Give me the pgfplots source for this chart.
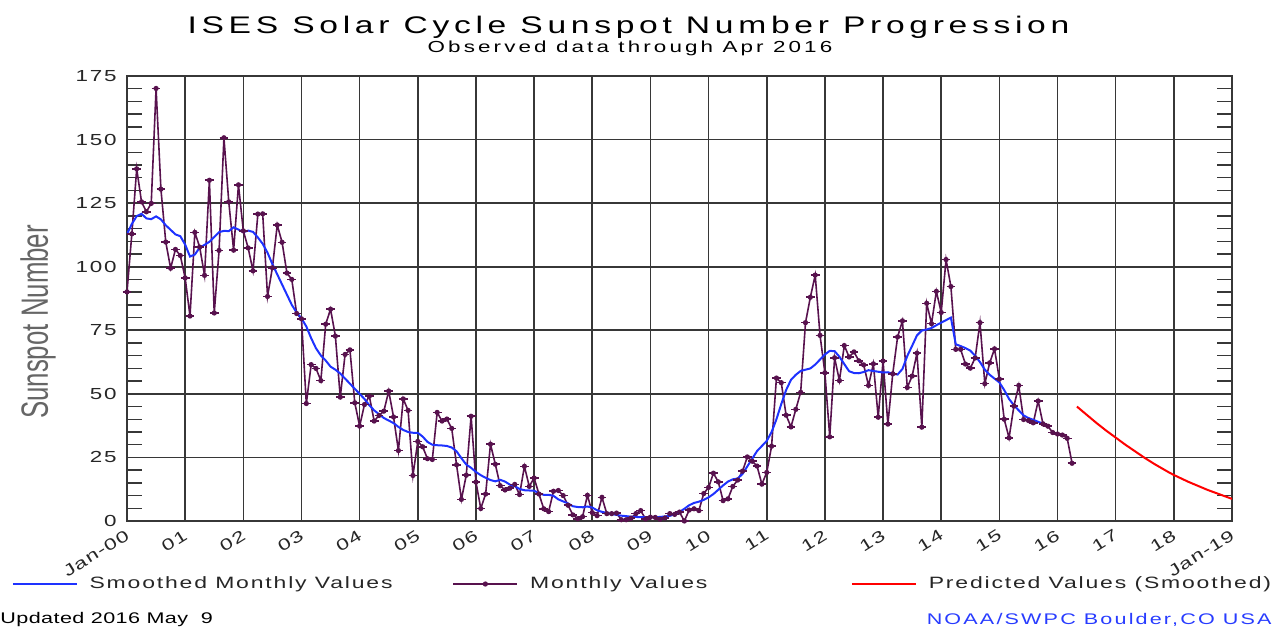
\documentclass[border=0pt]{standalone}
\usepackage{fontspec}
\setmainfont{Liberation Sans}
\usepackage{pgfplots}
\pgfplotsset{compat=1.18}
\usepackage{pgfplotstable}

\definecolor{monthc}{RGB}{88,18,78}
\definecolor{smoothc}{RGB}{30,50,255}
\definecolor{predc}{RGB}{255,0,0}
\definecolor{gridc}{RGB}{55,55,55}
\definecolor{noaac}{RGB}{40,60,255}

% wide, spaced lettering of the original plot: #1 = letter spacing
\newcommand\hs[2][8]{\scalebox{1.4}[1]{\addfontfeature{LetterSpace=#1}#2}}

% small bar with a dot, as on the monthly series
\pgfdeclareplotmark{bardot}{%
  \pgfpathmoveto{\pgfqpoint{-\pgfplotmarksize}{0pt}}%
  \pgfpathlineto{\pgfqpoint{\pgfplotmarksize}{0pt}}%
  \pgfusepathqstroke
  \pgfpathcircle{\pgfpointorigin}{0.6\pgfplotmarksize}%
  \pgfusepathqfill}

% months counted from Jan 2000
\pgfplotstableread[row sep=\\]{
m v\\
0 90.1\\ 1 112.9\\ 2 138.5\\ 3 125.5\\ 4 121.6\\ 5 124.9\\ 6 170.1\\ 7 130.5\\ 8 109.7\\ 9 99.4\\ 10 106.8\\ 11 104.4\\
12 95.6\\ 13 80.6\\ 14 113.5\\ 15 107.7\\ 16 96.6\\ 17 134.0\\ 18 81.8\\ 19 106.4\\ 20 150.7\\ 21 125.5\\ 22 106.5\\ 23 132.2\\
24 114.1\\ 25 107.4\\ 26 98.4\\ 27 120.7\\ 28 120.8\\ 29 88.3\\ 30 99.6\\ 31 116.4\\ 32 109.6\\ 33 97.5\\ 34 95.0\\ 35 81.6\\
36 79.5\\ 37 46.2\\ 38 61.5\\ 39 60.0\\ 40 55.2\\ 41 77.4\\ 42 83.3\\ 43 72.7\\ 44 48.7\\ 45 65.5\\ 46 67.3\\ 47 46.5\\
48 37.3\\ 49 45.8\\ 50 49.1\\ 51 39.3\\ 52 41.5\\ 53 43.2\\ 54 51.1\\ 55 40.9\\ 56 27.7\\ 57 48.0\\ 58 43.5\\ 59 17.9\\
60 31.3\\ 61 29.2\\ 62 24.5\\ 63 24.2\\ 64 42.7\\ 65 39.3\\ 66 40.1\\ 67 36.4\\ 68 22.1\\ 69 8.5\\ 70 18.0\\ 71 41.2\\
72 15.3\\ 73 4.9\\ 74 10.6\\ 75 30.2\\ 76 22.3\\ 77 13.9\\ 78 12.2\\ 79 12.9\\ 80 14.4\\ 81 10.4\\ 82 21.5\\ 83 13.6\\
84 16.9\\ 85 10.6\\ 86 4.8\\ 87 3.7\\ 88 11.7\\ 89 12.0\\ 90 10.0\\ 91 6.2\\ 92 2.4\\ 93 0.9\\ 94 1.7\\ 95 10.1\\
96 3.3\\ 97 2.1\\ 98 9.3\\ 99 2.9\\ 100 2.9\\ 101 3.1\\ 102 0.5\\ 103 0.5\\ 104 1.1\\ 105 2.9\\ 106 4.1\\ 107 0.8\\
108 1.5\\ 109 1.4\\ 110 0.7\\ 111 1.2\\ 112 2.9\\ 113 2.6\\ 114 3.5\\ 115 0.0\\ 116 4.3\\ 117 4.8\\ 118 4.1\\ 119 10.8\\
120 13.2\\ 121 18.8\\ 122 15.4\\ 123 8.0\\ 124 8.7\\ 125 13.6\\ 126 16.1\\ 127 19.6\\ 128 25.2\\ 129 23.5\\ 130 21.6\\ 131 14.5\\
132 19.1\\ 133 29.4\\ 134 56.2\\ 135 54.4\\ 136 41.6\\ 137 37.0\\ 138 43.9\\ 139 50.6\\ 140 78.0\\ 141 88.0\\ 142 96.7\\ 143 73.0\\
144 58.3\\ 145 33.1\\ 146 64.2\\ 147 55.2\\ 148 69.0\\ 149 64.5\\ 150 66.5\\ 151 63.0\\ 152 61.4\\ 153 53.3\\ 154 61.8\\ 155 40.8\\
156 62.9\\ 157 38.1\\ 158 57.9\\ 159 72.4\\ 160 78.7\\ 161 52.5\\ 162 57.0\\ 163 66.0\\ 164 36.9\\ 165 85.6\\ 166 77.6\\ 167 90.3\\
168 82.0\\ 169 102.8\\ 170 92.2\\ 171 67.5\\ 172 67.5\\ 173 61.7\\ 174 60.1\\ 175 64.1\\ 176 78.0\\ 177 54.0\\ 178 62.2\\ 179 67.7\\
180 55.8\\ 181 40.0\\ 182 32.7\\ 183 45.2\\ 184 53.3\\ 185 39.9\\ 186 39.5\\ 187 38.6\\ 188 47.2\\ 189 38.2\\ 190 37.3\\ 191 34.8\\
192 34.2\\ 193 33.8\\ 194 32.5\\ 195 22.7\\
}\monthly

\pgfplotstableread[row sep=\\]{
m v\\
0 112.9\\ 1 116.8\\ 2 119.9\\ 3 120.8\\ 4 119.0\\ 5 118.7\\ 6 119.8\\ 7 118.6\\ 8 116.3\\ 9 114.5\\ 10 112.7\\ 11 112.0\\
12 108.7\\ 13 104.0\\ 14 104.8\\ 15 107.5\\ 16 108.6\\ 17 109.8\\ 18 111.7\\ 19 113.6\\ 20 114.1\\ 21 114.0\\ 22 115.5\\ 23 114.6\\
24 113.6\\ 25 114.2\\ 26 113.7\\ 27 111.5\\ 28 109.0\\ 29 105.5\\ 30 101.0\\ 31 97.0\\ 32 93.0\\ 33 89.0\\ 34 85.0\\ 35 82.0\\
36 79.7\\ 37 76.5\\ 38 71.9\\ 39 67.9\\ 40 65.1\\ 41 63.1\\ 42 60.7\\ 43 59.5\\ 44 58.0\\ 45 56.0\\ 46 54.0\\ 47 52.0\\
48 50.0\\ 49 48.0\\ 50 45.5\\ 51 43.5\\ 52 42.0\\ 53 40.5\\ 54 39.5\\ 55 38.5\\ 56 37.0\\ 57 35.8\\ 58 35.0\\ 59 34.7\\
60 34.7\\ 61 33.2\\ 62 31.1\\ 63 30.0\\ 64 29.8\\ 65 29.7\\ 66 29.5\\ 67 28.9\\ 68 27.4\\ 69 24.7\\ 70 22.2\\ 71 20.9\\
72 19.3\\ 73 18.0\\ 74 17.0\\ 75 16.1\\ 76 15.6\\ 77 16.2\\ 78 15.5\\ 79 14.3\\ 80 13.7\\ 81 12.6\\ 82 12.1\\ 83 12.0\\
84 11.9\\ 85 10.9\\ 86 10.3\\ 87 10.3\\ 88 9.9\\ 89 8.5\\ 90 7.7\\ 91 6.9\\ 92 5.8\\ 93 5.5\\ 94 5.4\\ 95 5.7\\
96 5.3\\ 97 4.2\\ 98 3.6\\ 99 3.2\\ 100 2.8\\ 101 2.4\\ 102 2.1\\ 103 1.9\\ 104 1.7\\ 105 1.6\\ 106 1.5\\ 107 1.5\\
108 1.5\\ 109 1.5\\ 110 1.6\\ 111 1.8\\ 112 2.0\\ 113 2.7\\ 114 3.6\\ 115 4.8\\ 116 6.2\\ 117 7.1\\ 118 7.6\\ 119 8.3\\
120 9.3\\ 121 10.6\\ 122 12.3\\ 123 14.0\\ 124 15.5\\ 125 16.4\\ 126 16.7\\ 127 18.5\\ 128 21.5\\ 129 24.5\\ 130 27.5\\ 131 29.5\\
132 31.5\\ 133 35.0\\ 134 40.0\\ 135 46.0\\ 136 51.5\\ 137 55.5\\ 138 57.5\\ 139 59.0\\ 140 59.5\\ 141 60.0\\ 142 61.5\\ 143 63.5\\
144 65.5\\ 145 66.9\\ 146 66.8\\ 147 64.6\\ 148 61.7\\ 149 58.9\\ 150 58.2\\ 151 58.1\\ 152 58.6\\ 153 59.3\\ 154 59.0\\ 155 58.7\\
156 58.4\\ 157 58.5\\ 158 57.9\\ 159 57.6\\ 160 59.8\\ 161 64.9\\ 162 68.9\\ 163 73.0\\ 164 74.9\\ 165 75.3\\ 166 75.9\\ 167 77.0\\
168 78.0\\ 169 79.0\\ 170 80.0\\ 171 69.5\\ 172 68.8\\ 173 68.0\\ 174 67.0\\ 175 65.0\\ 176 62.5\\ 177 59.5\\ 178 57.5\\ 179 56.0\\
180 54.5\\ 181 51.5\\ 182 48.0\\ 183 45.5\\ 184 43.5\\ 185 41.5\\ 186 40.5\\ 187 39.8\\ 188 39.0\\ 189 38.3\\
}\smoothed

\pgfplotstableread[row sep=\\]{
m v\\
196 45.0\\ 197 43.4\\ 198 41.8\\ 199 40.2\\ 200 38.6\\ 201 37.1\\ 202 35.6\\ 203 34.2\\ 204 32.8\\ 205 31.4\\ 206 30.0\\
207 28.7\\ 208 27.4\\ 209 26.1\\ 210 24.8\\ 211 23.6\\ 212 22.4\\ 213 21.3\\ 214 20.2\\ 215 19.1\\ 216 18.1\\ 217 17.2\\
218 16.3\\ 219 15.4\\ 220 14.6\\ 221 13.8\\ 222 13.0\\ 223 12.2\\ 224 11.5\\ 225 10.8\\ 226 10.1\\ 227 9.4\\ 228 8.7\\
}\predicted

\begin{document}
\begin{tikzpicture}
\useasboundingbox (0,0) rectangle (643.5pt,314pt);
\begin{axis}[
    at={(63.5pt,53.5pt)}, anchor=south west,
    scale only axis, width=552.5pt, height=222.5pt,
    xmin=0, xmax=228, ymin=0, ymax=175,
    xtick={0,12,...,228},
    xticklabels={\hs[5]{Jan-00},\hs{01},\hs{02},\hs{03},\hs{04},\hs{05},\hs{06},\hs{07},\hs{08},\hs{09},
      \hs{10},\hs{11},\hs{12},\hs{13},\hs{14},\hs{15},\hs{16},\hs{17},\hs{18},\hs[5]{Jan-19}},
    ytick={0,25,...,175},
    yticklabels={\hs{0},\hs{25},\hs{50},\hs{75},\hs{100},\hs{125},\hs{150},\hs{175}},
    minor y tick num=4,
    grid=major,
    major grid style={line width=0.8pt, draw=gridc},
    axis line style={line width=0.8pt, draw=gridc},
    tick style={line width=0.7pt, draw=gridc},
    major tick length=0pt, minor tick length=7.5pt,
    tick align=inside,
    ticklabel style={font=\fontsize{8}{9}\selectfont, text=black!85},
    xticklabel style={rotate=32, anchor=north east, inner sep=1pt, xshift=-2pt, yshift=-1.5pt},
    yticklabel style={inner sep=2pt, xshift=-3pt},
    legend columns=-1,
    legend style={at={(-0.1041,-0.1416)}, anchor=west, draw=none, fill=none,
      inner sep=0pt, outer sep=0pt, font=\fontsize{8.2}{10}\selectfont,
      nodes={inner sep=0pt, text=black!85},
      /tikz/every odd column/.style={column sep=6pt},
      /tikz/every even column/.style={column sep=0pt}},
    legend cell align=left,
    legend image code/.code={\draw[mark repeat=2,mark phase=2,#1]
      plot coordinates {(0pt,0pt)(16pt,0pt)(32pt,0pt)};},
]
\addplot[monthc, line width=0.8pt, mark=bardot, mark size=2.2pt,
  mark options={line width=0.8pt}, forget plot] table[x=m, y=v] {\monthly};
\addplot[smoothc, line width=1pt, forget plot] table[x=m, y=v] {\smoothed};
\addplot[predc, line width=1pt, forget plot] table[x=m, y=v] {\predicted};

\addlegendimage{smoothc, line width=0.8pt}
\addlegendentry{\makebox[181.5pt][l]{\hs{Smoothed Monthly Values}}}
\addlegendimage{monthc, line width=0.8pt, mark=bardot, mark size=2.2pt}
\addlegendentry{\makebox[160.5pt][l]{\hs{Monthly Values}}}
\addlegendimage{predc, line width=0.8pt}
\addlegendentry{\hs{Predicted Values (Smoothed)}}
\end{axis}

\node[font=\fontsize{12}{14}\selectfont] at (314.25pt,300.5pt)
  {\hs[14]{ISES Solar Cycle Sunspot Number Progression}};
\node[font=\fontsize{8}{9}\selectfont] at (315pt,290pt)
  {\hs[14]{Observed data through Apr 2016}};
\node[rotate=90, text=black!60] at (19pt,153pt)
  {\scalebox{0.68}[1]{\fontsize{19}{20}\selectfont Sunspot Number}};
\node[anchor=west, inner sep=0pt, font=\fontsize{7.7}{9}\selectfont] at (0pt,4pt)
  {\hs[2]{Updated 2016 May\ \ 9}};
\node[anchor=east, inner sep=0pt, text=noaac, font=\fontsize{7.7}{9}\selectfont] at (636pt,4pt)
  {\hs[10]{NOAA/SWPC Boulder,CO USA}};
\end{tikzpicture}
\end{document}
